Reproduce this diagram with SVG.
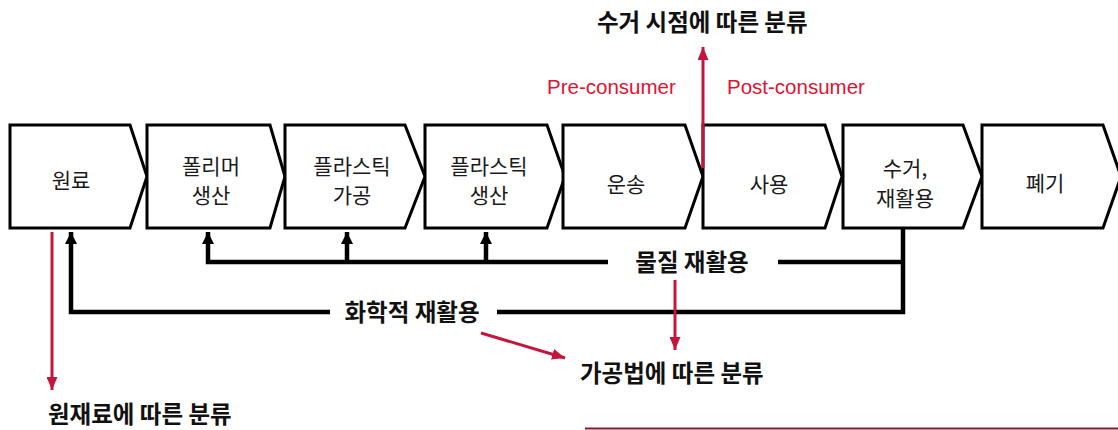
<svg xmlns="http://www.w3.org/2000/svg" width="1118" height="430" viewBox="0 0 1118 430">
<style>
.box{fill:#fff;stroke:#000;stroke-width:3;stroke-linejoin:miter}
.bt{font-family:"Noto Sans CJK KR","Noto Sans",sans-serif;font-size:21px;fill:#1a1a1a;text-anchor:middle}
.lbl{font-family:"Noto Sans CJK KR","Noto Sans",sans-serif;font-size:23.5px;font-weight:bold;fill:#111}
.red{font-family:"Liberation Sans",Arial,sans-serif;font-size:20.5px;fill:#e3122f}
.bl{stroke:#000;stroke-width:4.5;fill:none}
.rl{stroke:#c4163c;stroke-width:3;fill:none}
</style>
<defs>
<marker id="ab" markerUnits="userSpaceOnUse" markerWidth="12" markerHeight="12" refX="12" refY="6" orient="auto">
<path d="M0,0 L12,6 L0,12 z" fill="#000"/>
</marker>
<marker id="ar" markerUnits="userSpaceOnUse" markerWidth="13" markerHeight="11" refX="13" refY="5.5" orient="auto">
<path d="M0,0 L13,5.5 L0,11 z" fill="#c4163c"/>
</marker>
</defs>
<rect width="1118" height="430" fill="#fff"/>

<g id="n1"><path class="box" d="M10,125 H130 L147,176.5 L130,228 H10 Z"/><text class="bt" x="71" y="188" font-size="24.5">원료</text></g>
<g id="n2"><path class="box" d="M147,125 H270 L285,176.5 L270,228 H147 Z"/><text class="bt" x="211" y="174" font-size="23">폴리머</text><text class="bt" x="211" y="203" font-size="23">생산</text></g>
<g id="n3"><path class="box" d="M285,125 H405 L425,176.5 L405,228 H285 Z"/><text class="bt" x="352" y="174" font-size="20.5">플라스틱</text><text class="bt" x="352" y="203" font-size="20.5">가공</text></g>
<g id="n4"><path class="box" d="M425,125 H547 L565,176.5 L547,228 H425 Z"/><text class="bt" x="489" y="174" font-size="20.5">플라스틱</text><text class="bt" x="489" y="203" font-size="20.5">생산</text></g>
<g id="n5"><path class="box" d="M563,125 H685 L703,176.5 L685,228 H563 Z"/><text class="bt" x="626" y="192" font-size="25.5">운송</text></g>
<g id="n6"><path class="box" d="M703,125 H825 L842,176.5 L825,228 H703 Z"/><text class="bt" x="769" y="192" font-size="25.5">사용</text></g>
<g id="n7"><path class="box" d="M843,125 H963 L982,176.5 L963,228 H843 Z"/><text class="bt" x="905" y="176" font-size="24">수거,</text><text class="bt" x="905" y="206" font-size="24">재활용</text></g>
<g id="n8"><path class="box" d="M982,125 H1103 L1121,176.5 L1103,228 H982 Z"/><text class="bt" x="1045" y="191" font-size="25">폐기</text></g>

<g id="connectors">
<path class="bl" d="M608,262 H208 V232" marker-end="url(#ab)"/>
<path class="bl" d="M347,262 V232" marker-end="url(#ab)"/>
<path class="bl" d="M486,262 V232" marker-end="url(#ab)"/>
<path class="bl" d="M778,262 H903"/>
<path class="bl" d="M903,228 V312 H497"/>
<path class="bl" d="M330,312 H71 V232" marker-end="url(#ab)"/>
<path class="rl" d="M52,232 V390" marker-end="url(#ar)"/>
<path class="rl" d="M481,333 L565,358" marker-end="url(#ar)"/>
<path class="rl" d="M675,280 V350" marker-end="url(#ar)"/>
<path class="rl" d="M703,168 V47" marker-end="url(#ar)"/>
</g>

<text class="lbl" x="692" y="271" text-anchor="middle">물질 재활용</text>
<text class="lbl" x="412" y="321" text-anchor="middle">화학적 재활용</text>
<text class="lbl" x="597" y="31">수거 시점에 따른 분류</text>
<text class="lbl" x="580" y="382">가공법에 따른 분류</text>
<text class="lbl" x="48" y="423" font-size="23">원재료에 따른 분류</text>
<text class="red" x="547" y="94">Pre-consumer</text>
<text class="red" x="727" y="94">Post-consumer</text>
<line x1="585" y1="428.5" x2="1118" y2="428.5" stroke="#8a1a2c" stroke-width="2"/>
</svg>
